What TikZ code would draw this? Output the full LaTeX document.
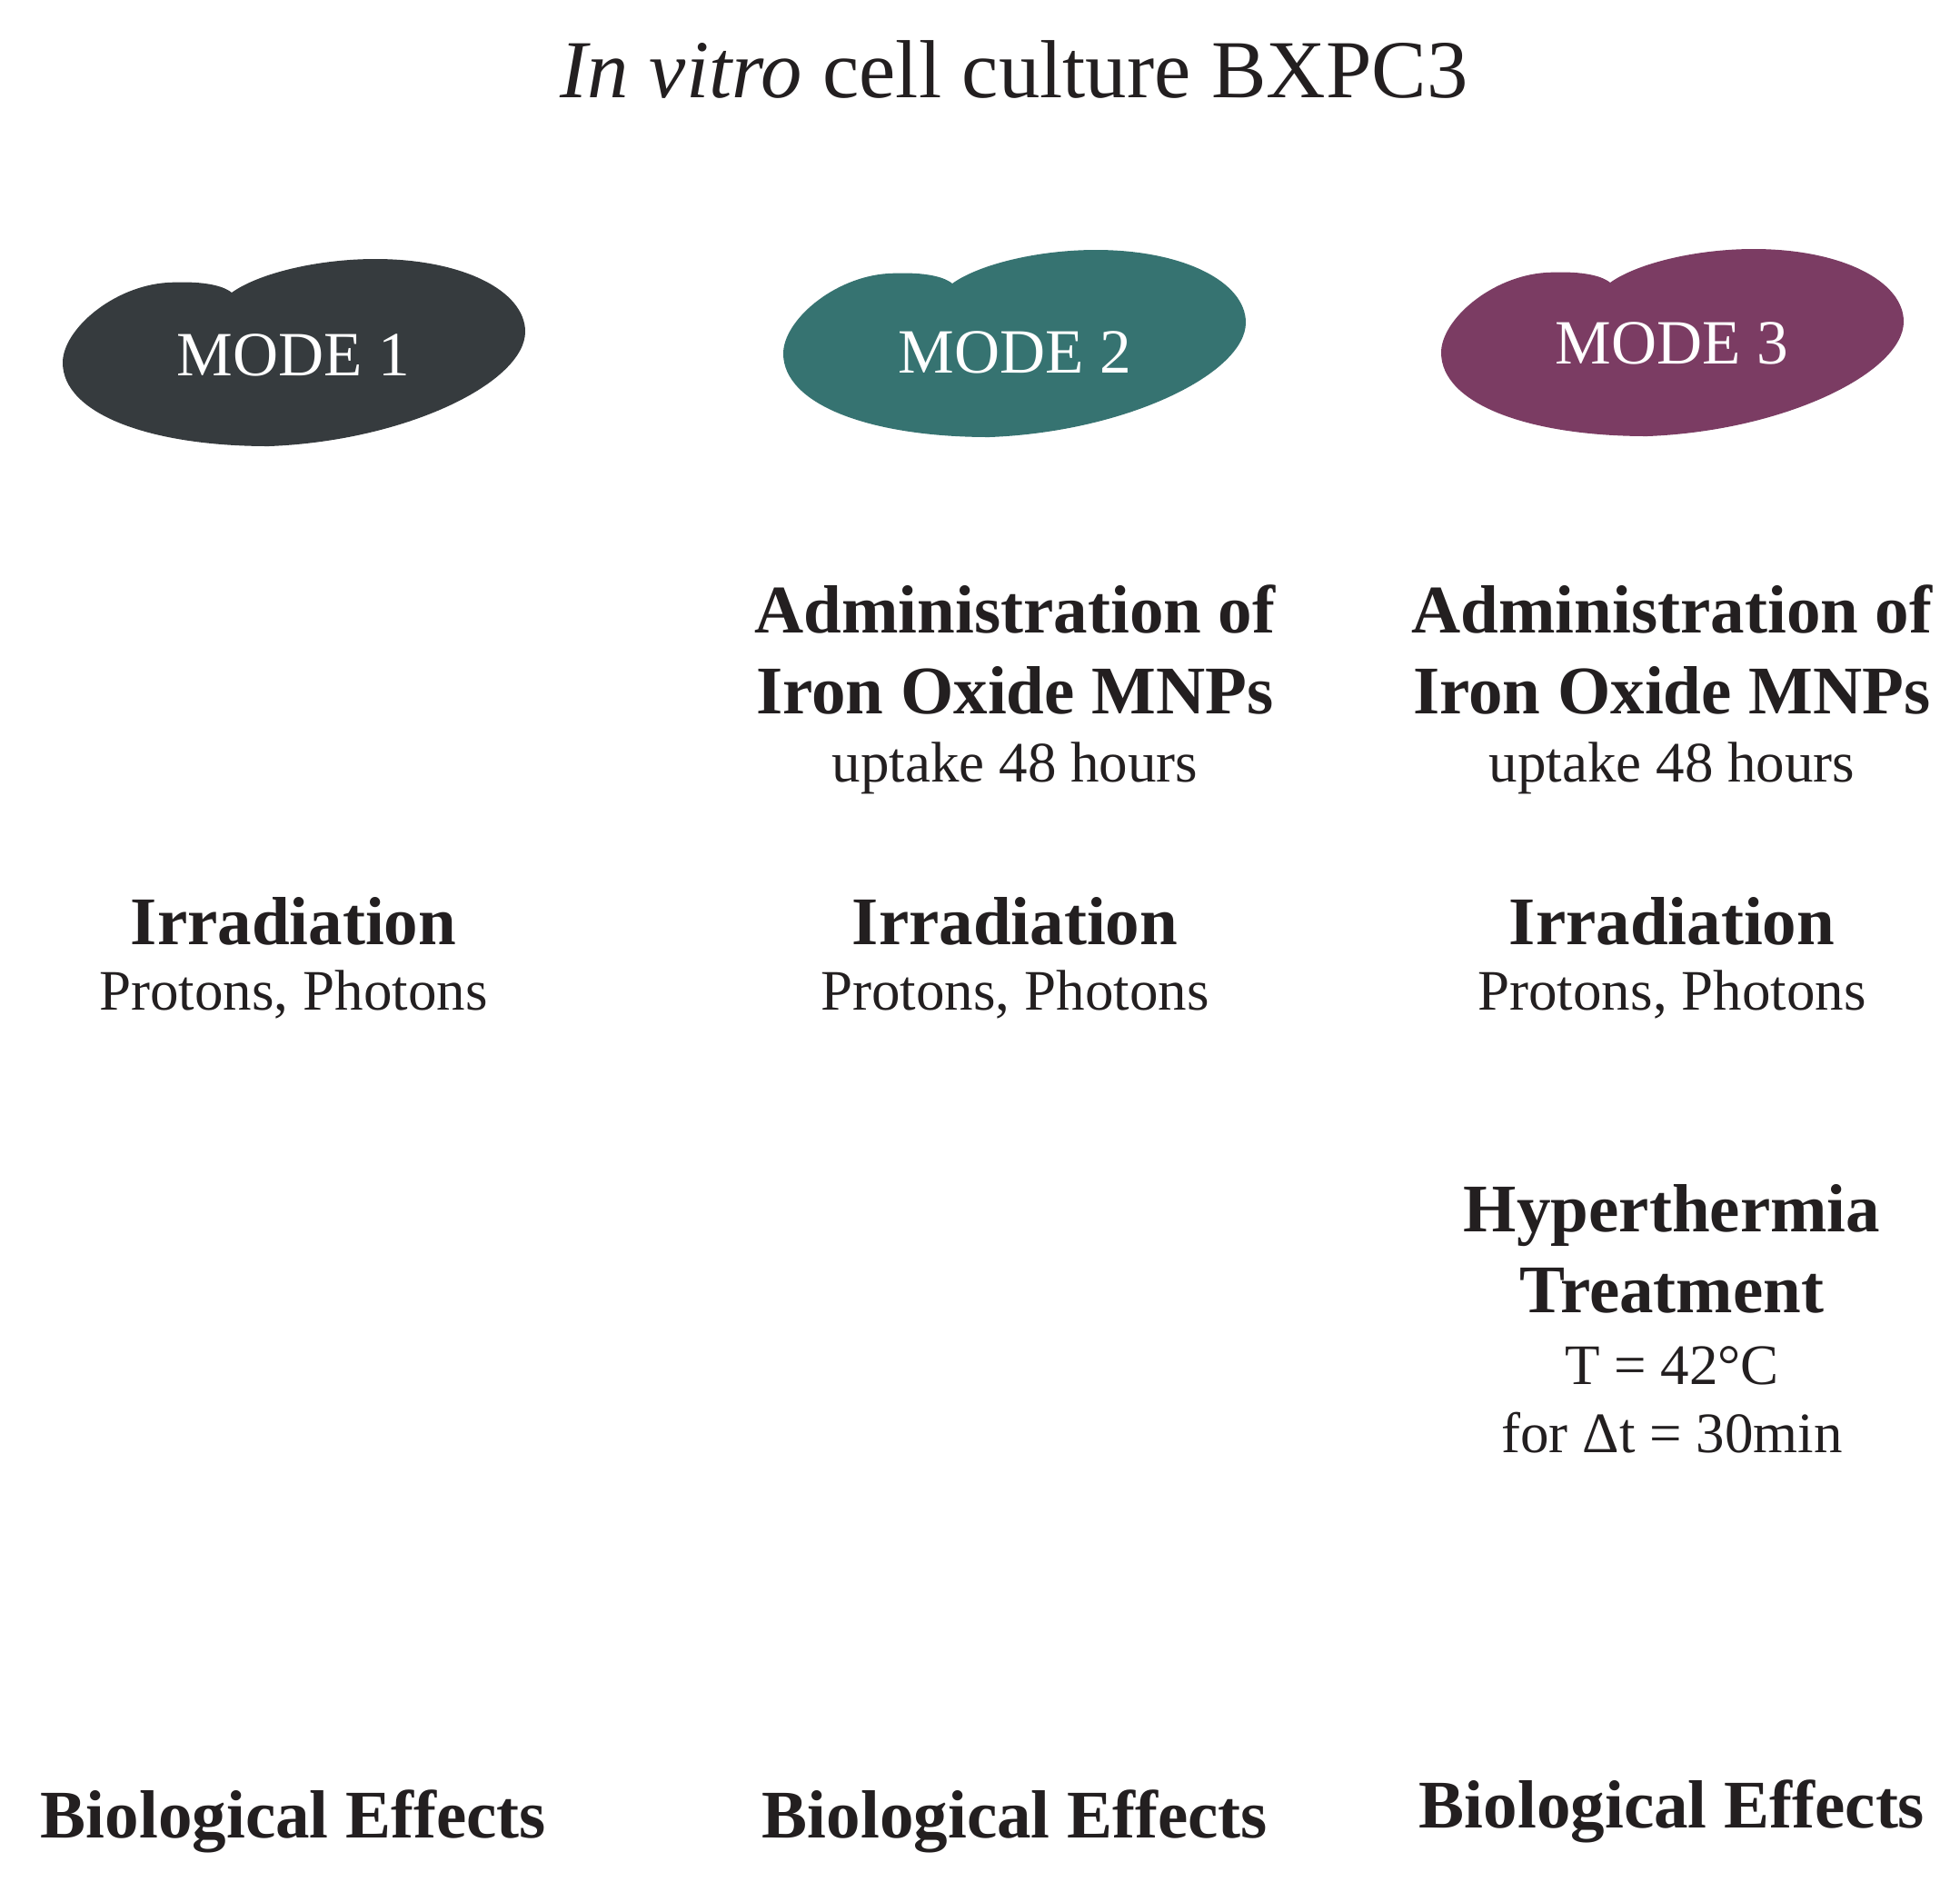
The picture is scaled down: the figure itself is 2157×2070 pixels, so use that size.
\documentclass[tikz,border=0pt]{standalone}
\usepackage{fontspec}
\setmainfont{Liberation Serif}
\definecolor{txt}{HTML}{231F20}
\definecolor{modeA}{HTML}{363B3E}
\definecolor{modeB}{HTML}{367371}
\definecolor{modeC}{HTML}{7B3C63}
\begin{document}
\begin{tikzpicture}[x=0.3pt,y=-0.3pt,
  every node/.style={inner sep=0pt,outer sep=0pt,anchor=base,text=txt},
  title/.style={font=\fontsize{27.2}{30}\selectfont},
  modelabel/.style={font=\fontsize{20.8}{24}\selectfont,text=white},
  head/.style={font=\fontsize{22.5}{26}\selectfont\bfseries},
  sub/.style={font=\fontsize{18.9}{22}\selectfont},
  blob/.pic={\fill[pic actions] (186,37)
      .. controls (215,16) and (280,0) .. (344,0)
      .. controls (440,0) and (509,35) .. (509,80)
      .. controls (509,135) and (380,200) .. (227,206)
      .. controls (95,206) and (0,170) .. (0,114)
      .. controls (0,78) and (55,30) .. (115,26)
      .. controls (150,24) and (175,28) .. (186,37) -- cycle;}
]
\useasboundingbox (0,0) rectangle (2157,2070);

\node[title] (title) at (1116,107) {\textit{In vitro} cell culture BXPC3};

\pic[fill=modeA] at (69,285) {blob};
\pic[fill=modeB] at (862,275) {blob};
\pic[fill=modeC] at (1586,274) {blob};

\node[modelabel] (m1) at (323,413) {MODE 1};
\node[modelabel] (m2) at (1117,410) {MODE 2};
\node[modelabel] (m3) at (1840,400) {MODE 3};

\node[head] (adm2a) at (1117,696) {Administration of};
\node[head] (adm2b) at (1117,785) {Iron Oxide MNPs};
\node[sub]  (adm2c) at (1117,860) {uptake 48 hours};
\node[head] (adm3a) at (1840,696) {Administration of};
\node[head] (adm3b) at (1840,785) {Iron Oxide MNPs};
\node[sub]  (adm3c) at (1840,860) {uptake 48 hours};

\node[head] (irr1) at (323,1039) {Irradiation};
\node[sub]  (irr1s) at (323,1111) {Protons, Photons};
\node[head] (irr2) at (1117,1039) {Irradiation};
\node[sub]  (irr2s) at (1117,1111) {Protons, Photons};
\node[head] (irr3) at (1840,1039) {Irradiation};
\node[sub]  (irr3s) at (1840,1111) {Protons, Photons};

\node[head] (hypa) at (1840,1355) {Hyperthermia};
\node[head] (hypb) at (1840,1444) {Treatment};
\node[sub]  (hypc) at (1840,1523) {T = 42°C};
\node[sub]  (hypd) at (1840,1598) {for Δt = 30min};

\node[head] (bio1) at (323,2022) {Biological Effects};
\node[head] (bio2) at (1117,2022) {Biological Effects};
\node[head] (bio3) at (1840,2011) {Biological Effects};
\end{tikzpicture}
\end{document}
